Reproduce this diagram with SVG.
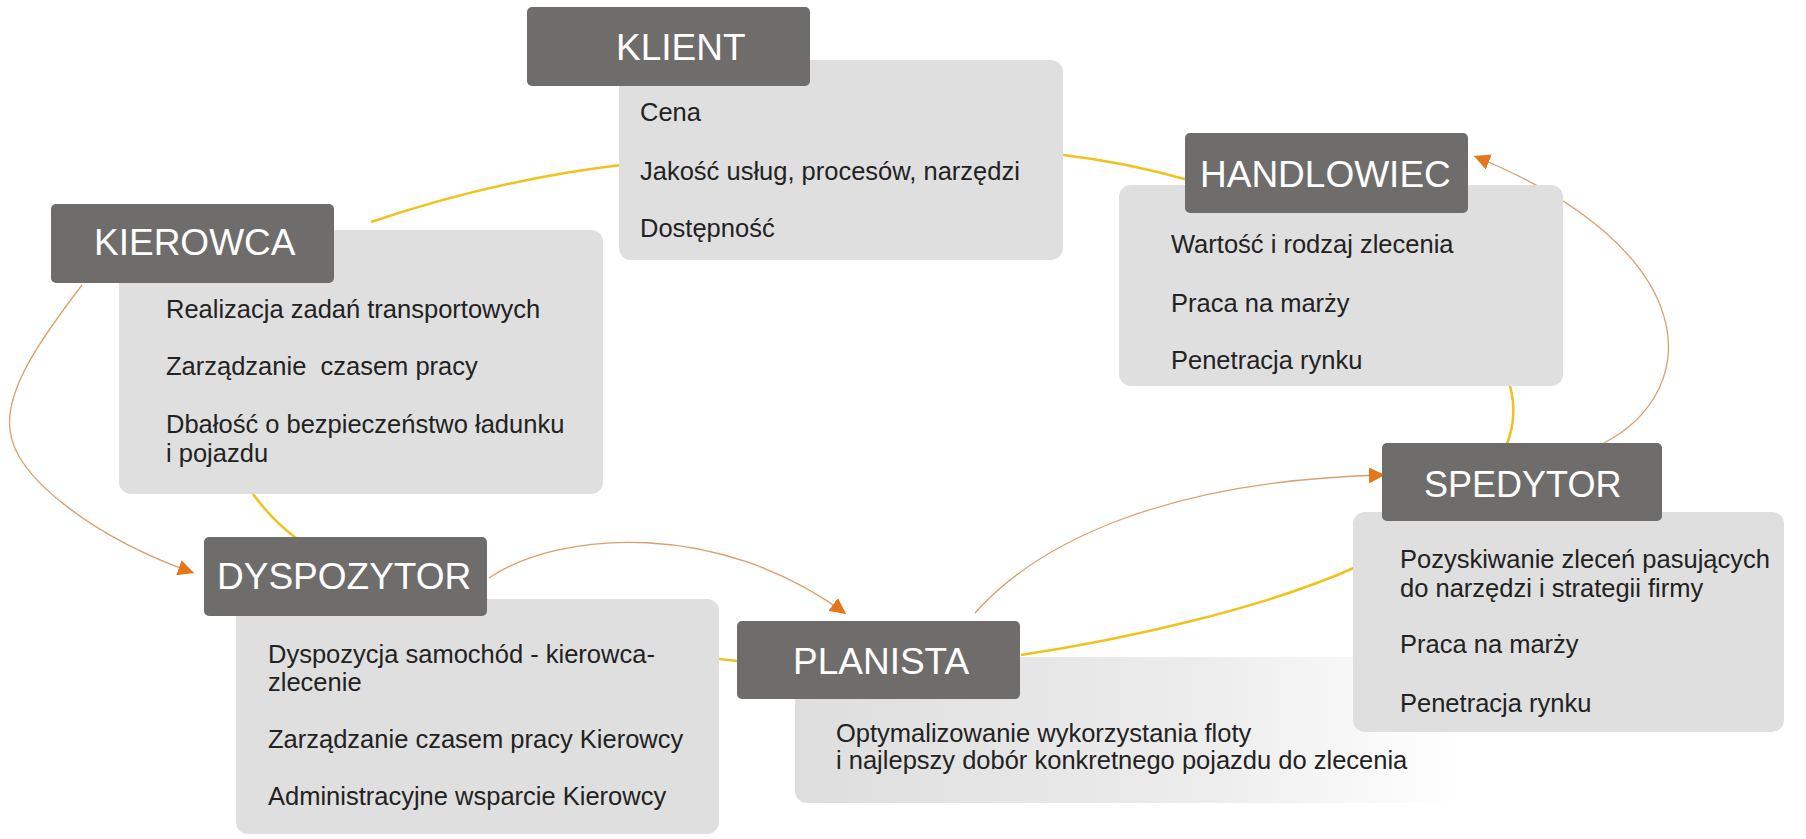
<svg xmlns="http://www.w3.org/2000/svg" width="1806" height="839" viewBox="0 0 1806 839">
<style>
.hd{fill:#6e6d6c}
.bd{fill:#dfdfdf}
.ht{font-family:"Liberation Sans",Arial,sans-serif;font-size:37px;fill:#ffffff}
.bt{font-family:"Liberation Sans",Arial,sans-serif;font-size:25.5px;fill:#222222;white-space:pre}
.yl{fill:none;stroke:#efc21c;stroke-width:2.5}
.or{fill:none;stroke:#d9a06c;stroke-width:1.3}
</style>
<defs>
<marker id="ah" viewBox="0 0 10 10" refX="10" refY="5" markerWidth="16" markerHeight="16" markerUnits="userSpaceOnUse" orient="auto">
<path d="M0,0 L10,5 L0,10 Z" fill="#e5761b"/>
</marker>
<linearGradient id="pg" x1="795" y1="0" x2="1460" y2="0" gradientUnits="userSpaceOnUse">
<stop offset="0" stop-color="#dedede"/>
<stop offset="0.6" stop-color="#ececec"/>
<stop offset="1" stop-color="#ffffff"/>
</linearGradient>
</defs>
<rect width="1806" height="839" fill="#ffffff"/>
<g id="connectors">
<path class="yl" d="M371,222 Q495,180 621,165"/>
<path class="yl" d="M1063,155 Q1125,162 1192,181"/>
<path class="yl" d="M1510,386 Q1518,415 1507,444"/>
<path class="yl" d="M253,494 Q272,520 296,538"/>
<path class="yl" d="M719,659 L738,661"/>
<path class="yl" d="M1021,655 C1120,640 1260,610 1356,567"/>
<path class="or" d="M1604,443 C1705,390 1705,250 1474,156" marker-end="url(#ah)"/>
<path class="or" d="M975,613 C1040,540 1170,480 1385,475" marker-end="url(#ah)"/>
<path class="or" d="M489,578 C560,530 720,520 846,614" marker-end="url(#ah)"/>
<path class="or" d="M82,285 C40,340 5,390 10,430 C15,480 100,540 194,573" marker-end="url(#ah)"/>
</g>
<g id="klient">
<rect class="bd" x="619" y="60" width="444" height="200" rx="12"/>
<rect class="hd" x="527" y="7" width="283" height="79" rx="5"/>
<text class="ht" x="616" y="60">KLIENT</text>
<text class="bt" x="640" y="121">Cena</text>
<text class="bt" x="640" y="180">Jakość usług, procesów, narzędzi</text>
<text class="bt" x="640" y="237">Dostępność</text>
</g>
<g id="kierowca">
<rect class="bd" x="119" y="230" width="484" height="264" rx="12"/>
<rect class="hd" x="51" y="204" width="283" height="79" rx="5"/>
<text class="ht" x="94" y="255">KIEROWCA</text>
<text class="bt" x="166" y="318">Realizacja zadań transportowych</text>
<text class="bt" x="166" y="375">Zarządzanie  czasem pracy</text>
<text class="bt" x="166" y="433">Dbałość o bezpieczeństwo ładunku</text>
<text class="bt" x="166" y="462">i pojazdu</text>
</g>
<g id="handlowiec">
<rect class="bd" x="1119" y="185" width="444" height="201" rx="12"/>
<rect class="hd" x="1185" y="133" width="283" height="80" rx="5"/>
<text class="ht" x="1200" y="187">HANDLOWIEC</text>
<text class="bt" x="1171" y="253">Wartość i rodzaj zlecenia</text>
<text class="bt" x="1171" y="312">Praca na marży</text>
<text class="bt" x="1171" y="369">Penetracja rynku</text>
</g>
<g id="dyspozytor">
<rect class="bd" x="236" y="599" width="483" height="235" rx="12"/>
<rect class="hd" x="204" y="537" width="283" height="79" rx="5"/>
<text class="ht" x="217" y="589">DYSPOZYTOR</text>
<text class="bt" x="268" y="663">Dyspozycja samochód - kierowca-</text>
<text class="bt" x="268" y="691">zlecenie</text>
<text class="bt" x="268" y="748">Zarządzanie czasem pracy Kierowcy</text>
<text class="bt" x="268" y="805">Administracyjne wsparcie Kierowcy</text>
</g>
<g id="planista">
<rect x="795" y="657" width="665" height="146" rx="12" fill="url(#pg)"/>
<rect class="hd" x="737" y="621" width="283" height="78" rx="5"/>
<text class="ht" x="793" y="674">PLANISTA</text>
<text class="bt" x="836" y="742">Optymalizowanie wykorzystania floty</text>
<text class="bt" x="836" y="769">i najlepszy dobór konkretnego pojazdu do zlecenia</text>
</g>
<g id="spedytor">
<rect class="bd" x="1353" y="512" width="431" height="220" rx="12"/>
<rect class="hd" x="1382" y="443" width="280" height="78" rx="5"/>
<text class="ht" x="1424" y="497" style="font-size:36px">SPEDYTOR</text>
<text class="bt" x="1400" y="568">Pozyskiwanie zleceń pasujących</text>
<text class="bt" x="1400" y="597">do narzędzi i strategii firmy</text>
<text class="bt" x="1400" y="653">Praca na marży</text>
<text class="bt" x="1400" y="712">Penetracja rynku</text>
</g>
</svg>
